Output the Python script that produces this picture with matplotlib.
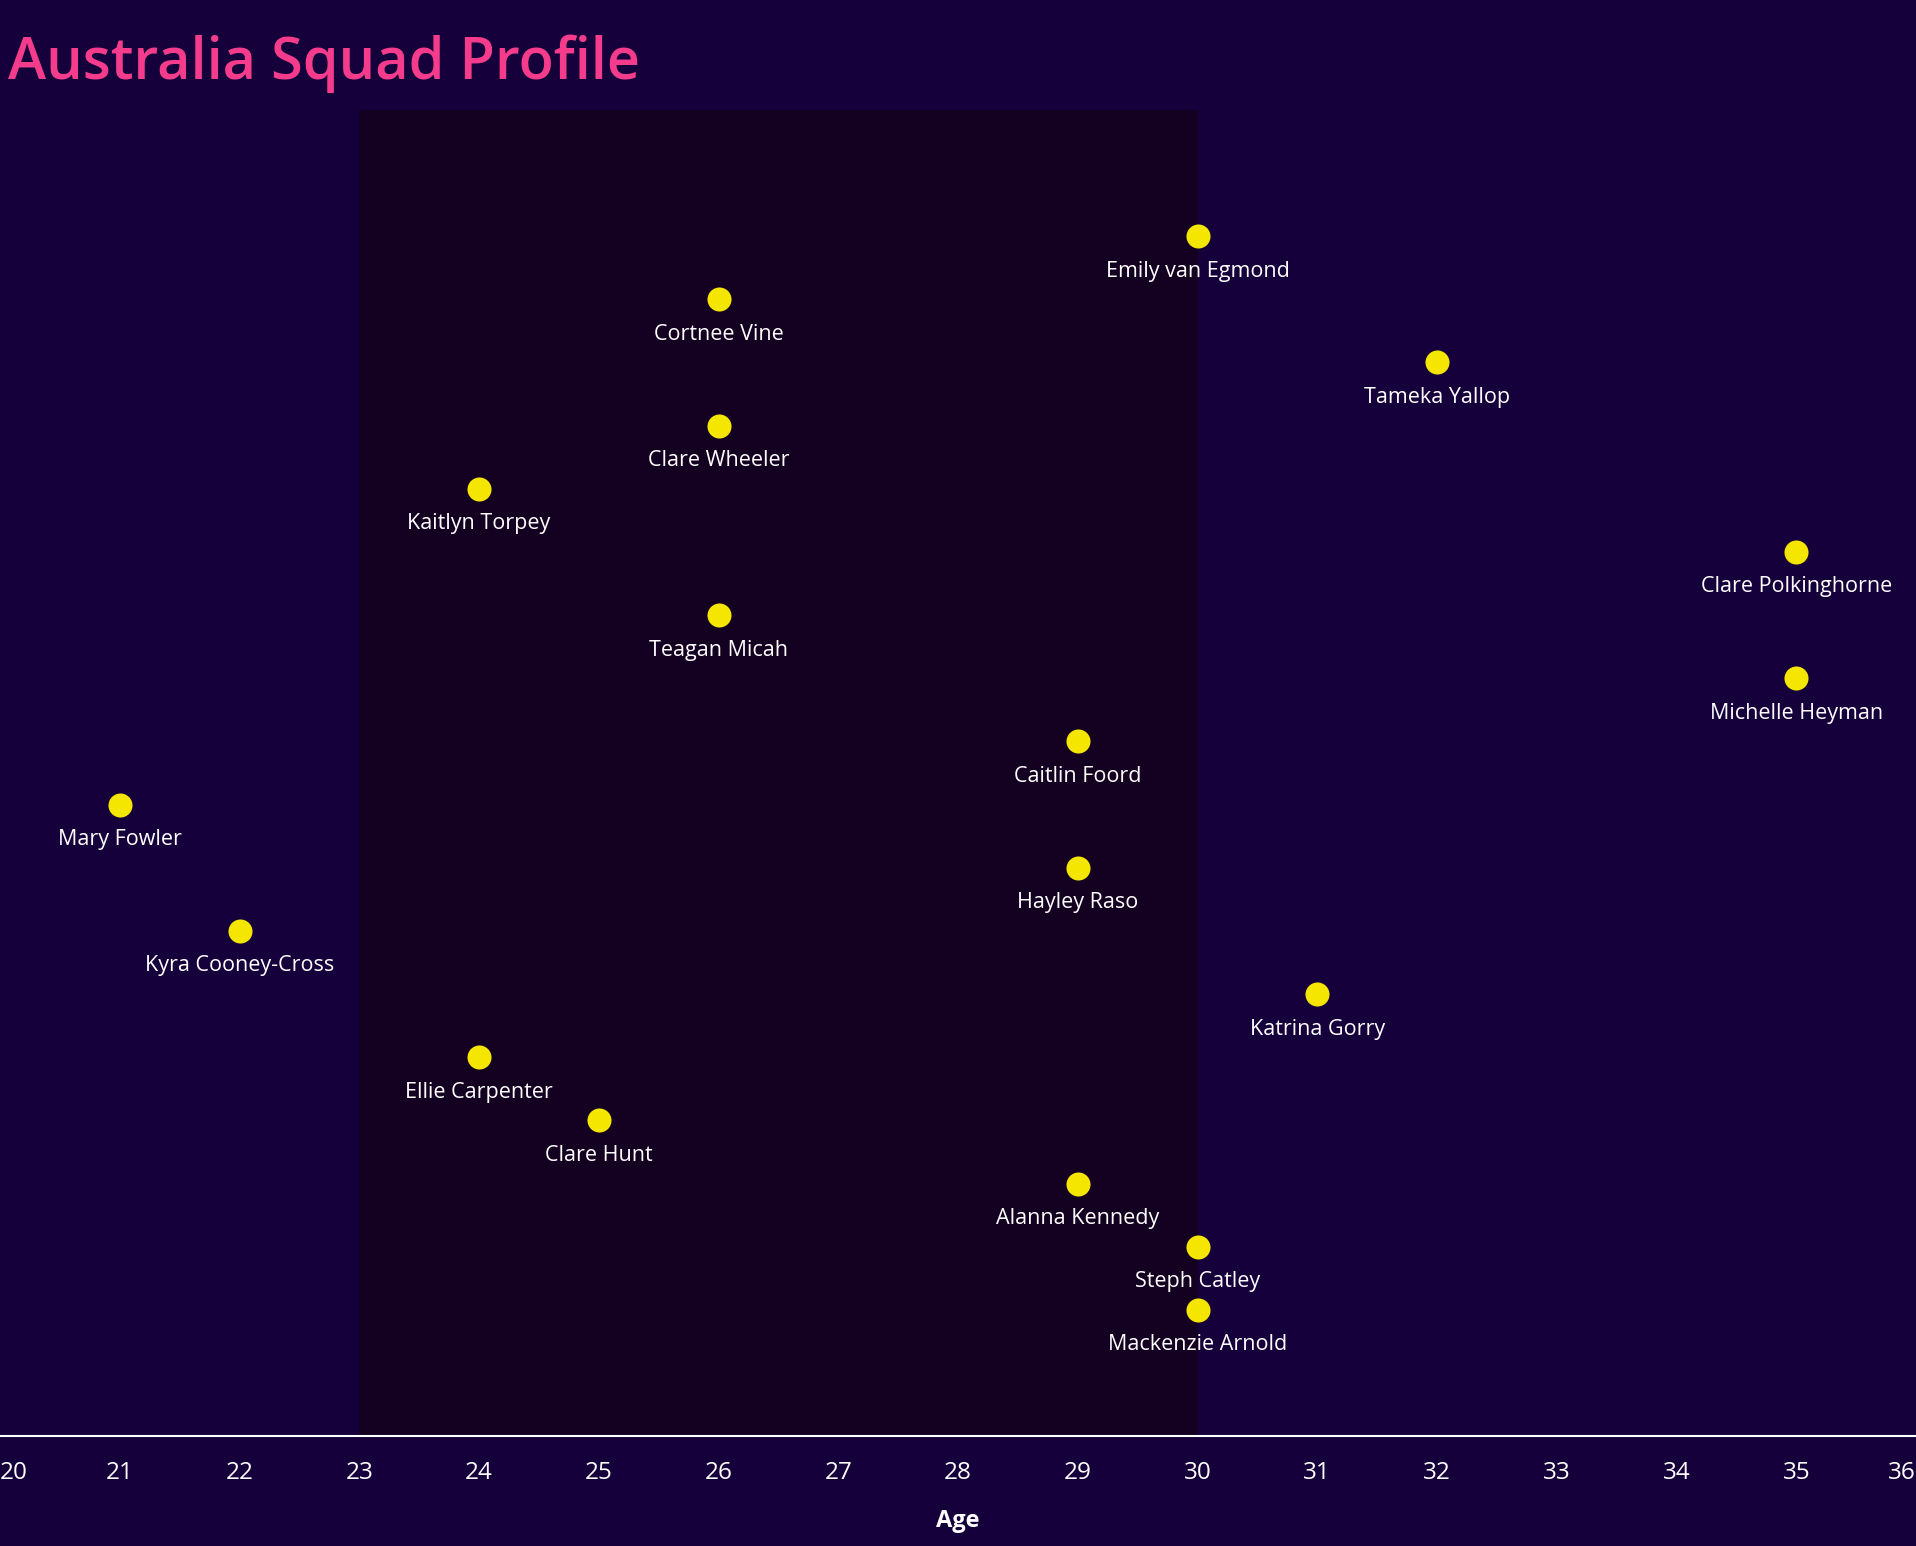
import matplotlib.pyplot as plt

# squad data (age on x, row order top -> bottom)
players = ["Emily van Egmond", "Cortnee Vine", "Tameka Yallop", "Clare Wheeler",
           "Kaitlyn Torpey", "Clare Polkinghorne", "Teagan Micah", "Michelle Heyman",
           "Caitlin Foord", "Mary Fowler", "Hayley Raso", "Kyra Cooney-Cross",
           "Katrina Gorry", "Ellie Carpenter", "Clare Hunt", "Alanna Kennedy",
           "Steph Catley", "Mackenzie Arnold"]
ages = [30, 26, 32, 26, 24, 35, 26, 35, 29, 21, 29, 22, 31, 24, 25, 29, 30, 30]
rows = [18, 17, 16, 15, 14, 13, 12, 11, 10, 9, 8, 7, 6, 5, 4, 3, 2, 1]

peak_start, peak_end = 23, 30
age_ticks = list(range(20, 37))

bg = "#15003b"
shade = "#140020"
dot = "#f5e600"
pink = "#f53c8c"

plt.rcParams["font.family"] = ["Open Sans", "DejaVu Sans"]

fig = plt.figure(figsize=(19.16, 15.46), dpi=100)
fig.patch.set_facecolor(bg)
ax = fig.add_axes([0, 0.071, 1, 0.858])
ax.set_facecolor(bg)

ax.axvspan(peak_start, peak_end, color=shade, zorder=0, lw=0)
ax.scatter(ages, rows, s=300, color=dot, zorder=3, linewidths=0)
for name, a, r in zip(players, ages, rows):
    ax.annotate(name, (a, r), xytext=(0, -35), textcoords="offset pixels",
                ha="center", va="center", color="white", fontsize=15.5,
                fontweight="medium")

ax.set_xlim(20, 36)
ax.set_ylim(-1, 20)
ax.set_yticks([])
ax.set_xticks(age_ticks)
ax.set_xticklabels([str(t) for t in age_ticks], color="white", fontsize=17.5)
ax.tick_params(axis="x", length=0, pad=18)
lbls = ax.get_xticklabels()
lbls[0].set_ha("left")
lbls[-1].set_ha("right")
for side in ["top", "left", "right"]:
    ax.spines[side].set_visible(False)
ax.spines["bottom"].set_color("white")
ax.spines["bottom"].set_linewidth(1.5)
ax.set_xlabel("Age", color="white", fontsize=17, fontweight="bold", labelpad=17)

fig.text(0.004, 0.959, "Australia Squad Profile", color=pink, fontsize=41.5,
         fontweight="semibold", ha="left", va="center")

fig.savefig("out.png", facecolor=bg)
